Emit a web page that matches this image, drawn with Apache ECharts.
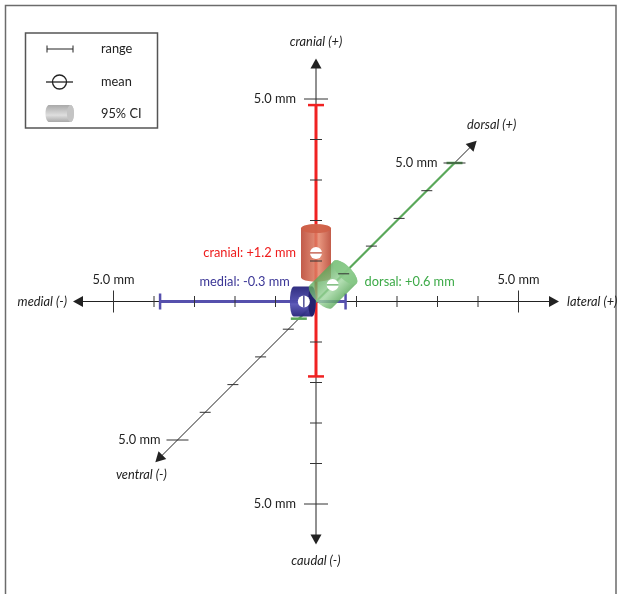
<!DOCTYPE html>
<html>
<head>
<meta charset="utf-8">
<script src="https://cdn.jsdelivr.net/npm/echarts@6/dist/echarts.min.js"></script>
<style>
  html, body { margin: 0; padding: 0; background: #fff; }
  #chart { width: 620px; height: 594px; }
</style>
</head>
<body>
<div id="chart"></div>
<script>
// Anatomical axes (mm), drawn as an oblique 3-D projection
const axisPosNames = ['lateral (+)', 'cranial (+)', 'dorsal (+)'];
const axisNegNames = ['medial (-)', 'caudal (-)', 'ventral (-)'];
const tickValues = [-5, -4, -3, -2, -1, 1, 2, 3, 4, 5];
const scaleTick = 5;
const scaleText = '5.0 mm';

// Displacement per direction: mean, 95% CI and range (mm)
const measureNames = ['medial', 'cranial', 'dorsal'];
const measureAxis = [0, 1, 2];
const meanValues = [-0.3, 1.2, 0.6];
const ciLower = [-0.55, 0.6, 0.18];
const ciUpper = [-0.1, 1.8, 1.05];
const rangeLower = [-3.85, -1.85, -0.62];
const rangeUpper = [0.73, 4.85, 5.0];

// Projection: unit vectors of the three axes in plot units; depth is foreshortened
const DEPTH = 0.684;
const axisDir = [[1, 0], [0, 1], [DEPTH, DEPTH]];
const axisExtent = [6, 6, 5.8];

const FONT = 'Lato, "Open Sans", sans-serif';
const FS = '12.8px ';
const INK = '#222';

const measureStyle = [
  { line: '#5650ad', text: '#3b3696', dark: '#26247a', light: '#5552b4', cap: '#22206c', r: 15, e: 3.8, op: 0.95, markVertical: true },
  { line: '#f02222', text: '#ee1c1c', dark: '#b9432f', light: '#e4866b', cap: '#cf5f47', r: 15, e: 4.5, op: 0.87, markVertical: false },
  { line: '#5aa85a', text: '#3daa48', dark: '#5aa95a', light: '#9fd69f', cap: '#86c886', r: 16, e: 6.5, op: 0.8, markVertical: false }
];

function pt(api, k, v) {
  return api.coord([v * axisDir[k][0], v * axisDir[k][1]]);
}

function seg(x1, y1, x2, y2, stroke, w) {
  return { type: 'line', silent: true, shape: { x1, y1, x2, y2 }, style: { stroke, lineWidth: w } };
}

function txt(text, x, y, align, vAlign, fill, italic) {
  return {
    type: 'text', silent: true,
    style: { text, x, y, align, verticalAlign: vAlign, fill,
      font: (italic ? 'italic ' : '') + FS + FONT }
  };
}

function arrowHead(tip, from, len, half) {
  const dx = tip[0] - from[0], dy = tip[1] - from[1];
  const L = Math.hypot(dx, dy);
  const ux = dx / L, uy = dy / L;
  const bx = tip[0] - ux * len, by = tip[1] - uy * len;
  return {
    type: 'polygon', silent: true,
    shape: { points: [tip, [bx - uy * half, by + ux * half], [bx + uy * half, by - ux * half]] },
    style: { fill: INK }
  };
}

// axis lines with arrows and direction names
function renderAxis(params, api) {
  const k = params.dataIndex;
  const ext = axisExtent[k];
  const a = pt(api, k, -ext), b = pt(api, k, ext);
  const L = Math.hypot(b[0] - a[0], b[1] - a[1]);
  const ux = (b[0] - a[0]) / L, uy = (b[1] - a[1]) / L;
  const c = [
    seg(a[0] + ux * 8, a[1] + uy * 8, b[0] - ux * 8, b[1] - uy * 8, INK, 1),
    arrowHead(a, b, 10, 5.5),
    arrowHead(b, a, 10, 5.5)
  ];
  if (k === 0) {
    c.push(txt(axisNegNames[k], a[0] - 6, a[1], 'right', 'middle', INK, true));
    c.push(txt(axisPosNames[k], b[0] + 8, b[1], 'left', 'middle', INK, true));
  } else if (k === 1) {
    c.push(txt(axisNegNames[k], a[0], a[1] + 16, 'center', 'middle', INK, true));
    c.push(txt(axisPosNames[k], b[0], b[1] - 17, 'center', 'middle', INK, true));
  } else {
    c.push(txt(axisNegNames[k], a[0] - 14, a[1] + 13, 'center', 'middle', INK, true));
    c.push(txt(axisPosNames[k], b[0] + 15, b[1] - 16, 'center', 'middle', INK, true));
  }
  return { type: 'group', children: c };
}

// range bars with end caps
function renderRange(params, api) {
  const i = params.dataIndex, k = measureAxis[i], s = measureStyle[i];
  const a = pt(api, k, rangeLower[i]), b = pt(api, k, rangeUpper[i]);
  const w = k === 2 ? 2.2 : 3;
  const c = [seg(a[0], a[1], b[0], b[1], s.line, w)];
  [a, b].forEach(p => {
    if (k === 0) c.push(seg(p[0], p[1] - 8, p[0], p[1] + 8, s.line, 2.5));
    else c.push(seg(p[0] - 8, p[1], p[0] + 8, p[1], s.line, 2.5));
  });
  return { type: 'group', children: c };
}

function ellipsePts(cx, cy, d, n, r, e, t0, t1, steps) {
  const out = [];
  for (let j = 0; j <= steps; j++) {
    const t = t0 + (t1 - t0) * j / steps;
    out.push([cx + n[0] * r * Math.cos(t) + d[0] * e * Math.sin(t),
              cy + n[1] * r * Math.cos(t) + d[1] * e * Math.sin(t)]);
  }
  return out;
}

function cylinder(p0, p1, r, e, dark, light, cap, op) {
  const L = Math.hypot(p1[0] - p0[0], p1[1] - p0[1]);
  const d = [(p1[0] - p0[0]) / L, (p1[1] - p0[1]) / L];
  const n = [-d[1], d[0]];
  const body = ellipsePts(p0[0], p0[1], d, n, r, e, 0, -Math.PI, 24)
    .concat(ellipsePts(p1[0], p1[1], d, n, r, e, Math.PI, 0, 24));
  const grad = {
    type: 'linear', global: true,
    x: p0[0] + n[0] * r, y: p0[1] + n[1] * r,
    x2: p0[0] - n[0] * r, y2: p0[1] - n[1] * r,
    colorStops: [
      { offset: 0, color: dark }, { offset: 0.4, color: light }, { offset: 1, color: dark }
    ]
  };
  return [
    { type: 'polygon', silent: true, shape: { points: body }, style: { fill: grad, opacity: op } },
    { type: 'polygon', silent: true, shape: { points: ellipsePts(p1[0], p1[1], d, n, r, e, 0, 2 * Math.PI, 48) },
      style: { fill: cap, opacity: op } }
  ];
}

// 95% CI cylinders
function renderCI(params, api) {
  const i = params.dataIndex, k = measureAxis[i], s = measureStyle[i];
  const p0 = pt(api, k, ciLower[i]), p1 = pt(api, k, ciUpper[i]);
  return { type: 'group', children: cylinder(p0, p1, s.r, s.e, s.dark, s.light, s.cap, s.op) };
}

// millimetre ticks, 5 mm ticks longer and labelled
function renderTicks(params, api) {
  const k = params.dataIndex;
  const c = [];
  tickValues.forEach(v => {
    const p = pt(api, k, v);
    const major = Math.abs(v) === scaleTick;
    if (k === 0) {
      const h = major ? 11 : 5.5;
      c.push(seg(p[0], p[1] - h, p[0], p[1] + h, '#333', 1));
    } else {
      const h = k === 1 ? (major ? 12 : 6) : (major ? 11 : 5.5);
      c.push(seg(p[0] - h, p[1], p[0] + h, p[1], '#333', 1));
    }
    if (major) {
      if (k === 0) c.push(txt(scaleText, p[0], p[1] - 22, 'center', 'middle', INK, false));
      else if (k === 1) c.push(txt(scaleText, p[0] - 20, p[1], 'right', 'middle', INK, false));
      else c.push(txt(scaleText, p[0] - 17, p[1], 'right', 'middle', INK, false));
    }
  });
  return { type: 'group', children: c };
}

// mean markers and value labels
function renderMean(params, api) {
  const i = params.dataIndex, k = measureAxis[i], s = measureStyle[i];
  const p = pt(api, k, meanValues[i]);
  const v = meanValues[i];
  const label = measureNames[i] + ': ' + (v > 0 ? '+' : '') + v.toFixed(1) + ' mm';
  const c = [
    { type: 'circle', silent: true, shape: { cx: p[0], cy: p[1], r: 6 }, style: { fill: '#fff' } },
    s.markVertical ? seg(p[0], p[1] - 6, p[0], p[1] + 6, s.dark, 1.2)
                   : seg(p[0] - 6, p[1], p[0] + 6, p[1], s.dark, 1.2)
  ];
  if (k === 0) c.push(txt(label, p[0] - 14, p[1] - 19.5, 'right', 'middle', s.text, false));
  else if (k === 1) c.push(txt(label, p[0] - 20, p[1], 'right', 'middle', s.text, false));
  else c.push(txt(label, p[0] + 32, p[1] - 3, 'left', 'middle', s.text, false));
  return { type: 'group', children: c };
}

const axisIdx = [0, 1, 2];
const measureIdx = [0, 1, 2];

function customSeries(render, data, z) {
  return { type: 'custom', coordinateSystem: 'cartesian2d', renderItem: render, data, z, clip: false, silent: true };
}

// legend icons
const legendCyl = (function () {
  const p0 = [49, 113.5], p1 = [70.5, 113.5];
  return cylinder(p0, p1, 8.5, 3.5, '#a9a9a9', '#dedede', '#c4c4c4', 1);
})();

const chart = echarts.init(document.getElementById('chart'), null, { renderer: 'canvas' });
chart.setOption({
  animation: false,
  backgroundColor: '#fff',
  grid: { left: 32.5, top: 18, width: 567, height: 567 },
  xAxis: { type: 'value', min: -7, max: 7, show: false },
  yAxis: { type: 'value', min: -7, max: 7, show: false },
  graphic: [
    { type: 'rect', silent: true, shape: { x: 5.5, y: 5.5, width: 610.5, height: 620 },
      style: { fill: 'none', stroke: '#6b6b6b', lineWidth: 1.5 } },
    { type: 'rect', silent: true, shape: { x: 25.5, y: 33, width: 132, height: 95 },
      style: { fill: '#fff', stroke: '#555', lineWidth: 1.5 } },
    { type: 'group', silent: true, children: [
      { type: 'line', shape: { x1: 47, y1: 49, x2: 73, y2: 49 }, style: { stroke: INK, lineWidth: 1 } },
      { type: 'line', shape: { x1: 47, y1: 45.5, x2: 47, y2: 52.5 }, style: { stroke: INK, lineWidth: 1 } },
      { type: 'line', shape: { x1: 73, y1: 45.5, x2: 73, y2: 52.5 }, style: { stroke: INK, lineWidth: 1 } },
      { type: 'circle', shape: { cx: 59.5, cy: 82, r: 7 }, style: { fill: 'none', stroke: INK, lineWidth: 1.3 } },
      { type: 'line', shape: { x1: 46, y1: 82, x2: 73, y2: 82 }, style: { stroke: INK, lineWidth: 1.3 } }
    ].concat(legendCyl) },
    { type: 'text', silent: true, style: { text: 'range', x: 101, y: 49, verticalAlign: 'middle', fill: INK, font: FS + FONT } },
    { type: 'text', silent: true, style: { text: 'mean', x: 101, y: 82, verticalAlign: 'middle', fill: INK, font: FS + FONT } },
    { type: 'text', silent: true, style: { text: '95% CI', x: 101, y: 114, verticalAlign: 'middle', fill: INK, font: FS + FONT } }
  ],
  series: [
    customSeries(renderAxis, axisIdx, 1),
    customSeries(renderRange, measureIdx, 2),
    customSeries(renderCI, measureIdx, 3),
    customSeries(renderTicks, axisIdx, 4),
    customSeries(renderMean, measureIdx, 5)
  ]
});
</script>
</body>
</html>
